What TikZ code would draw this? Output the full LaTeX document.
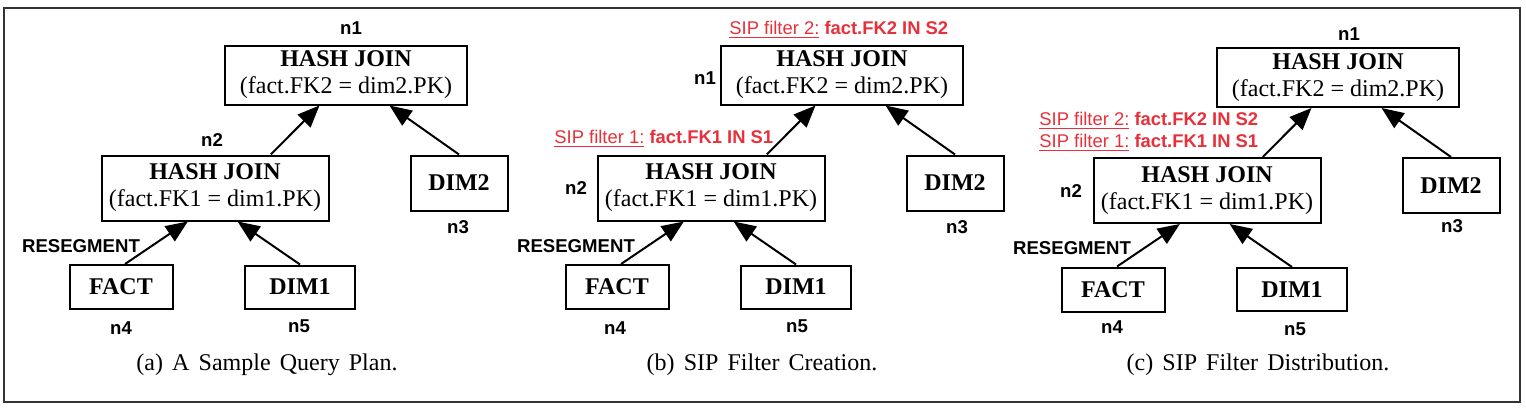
\documentclass[tikz,border=0pt]{standalone}
\usepackage{fontspec}
\setmainfont{Liberation Serif}
\setsansfont{Liberation Sans}
\usetikzlibrary{arrows.meta}
\definecolor{sipred}{RGB}{232,48,58}

\begin{document}
\begin{tikzpicture}[x=0.5pt, y=0.5pt,
  op/.style={draw, line width=1pt, inner sep=0pt, align=center, font=\fontsize{12}{13.5}\selectfont},
  tag/.style={font=\sffamily\bfseries\fontsize{9.3}{11}\selectfont, inner sep=1pt},
  sip/.style={font=\sffamily\fontsize{9.2}{11}\selectfont, text=sipred, inner sep=1pt, anchor=west},
  flow/.style={-{Triangle[length=11pt, width=9pt]}, line width=1pt},
  subcap/.style={font={\fontsize{12}{14}\selectfont\spaceskip 0.38em\relax}}]
  \useasboundingbox (0,0) rectangle (1526,409);
  \draw[line width=0.6pt, black!80] (4,7) rectangle (1520,401);
  % ---------------------------------------------------------------- (a) the plan
  \begin{scope}
    \node[op, minimum width=121pt, minimum height=29.5pt] (a1) at (346,334) {\textbf{HASH JOIN}\\(fact.FK2 = dim2.PK)};
    \node[op, minimum width=113.5pt, minimum height=32.5pt] (a2) at (215,221) {\textbf{HASH JOIN}\\(fact.FK1 = dim1.PK)};
    \node[op, minimum width=48.5pt, minimum height=27.5pt] (a3) at (459,226) {\textbf{DIM2}};
    \node[op, minimum width=51.5pt, minimum height=22pt] (a4) at (121,122) {\textbf{FACT}};
    \node[op, minimum width=55pt, minimum height=21.5pt] (a5) at (300,122) {\textbf{DIM1}};
    \draw[flow] (a2.31) -- (a1.229);
    \draw[flow] (a3.north) -- (a1.-35);
    \draw[flow] (a4.80) -- (a2.231);
    \draw[flow] (a5.north) -- (a2.-56);
    \node[tag] (a1tag) at (351,381) {n1};
    \node[tag] (a2tag) at (212,269) {n2};
    \node[tag] (a3tag) at (458,182) {n3};
    \node[tag] (a4tag) at (121,81) {n4};
    \node[tag] (a5tag) at (299,83) {n5};
    \node[tag] (areseg) at (81,163) {RESEGMENT};
    \node[subcap] (acap) at (267,44) {(a) A Sample Query Plan.};
  \end{scope}
  % ---------------------------------------------------------------- (b) the filters are made at the joins
  \begin{scope}[xshift=248pt]
    \node[op, minimum width=121pt, minimum height=29.5pt] (b1) at (346,334) {\textbf{HASH JOIN}\\(fact.FK2 = dim2.PK)};
    \node[op, minimum width=113.5pt, minimum height=32.5pt] (b2) at (215,221) {\textbf{HASH JOIN}\\(fact.FK1 = dim1.PK)};
    \node[op, minimum width=48.5pt, minimum height=27.5pt] (b3) at (459,226) {\textbf{DIM2}};
    \node[op, minimum width=51.5pt, minimum height=22pt] (b4) at (121,122) {\textbf{FACT}};
    \node[op, minimum width=55pt, minimum height=21.5pt] (b5) at (300,122) {\textbf{DIM1}};
    \draw[flow] (b2.31) -- (b1.229);
    \draw[flow] (b3.north) -- (b1.-35);
    \draw[flow] (b4.80) -- (b2.231);
    \draw[flow] (b5.north) -- (b2.-56);
    \node[sip] (bsip2) at (231,379) {\underline{SIP filter 2:} \textbf{fact.FK2 IN S2}};
    \node[sip] (bsip1) at (56,270) {\underline{SIP filter 1:} \textbf{fact.FK1 IN S1}};
    \node[tag] (b1tag) at (209,331) {n1};
    \node[tag] (b2tag) at (80,221) {n2};
    \node[tag] (b3tag) at (461,182) {n3};
    \node[tag] (b4tag) at (119,81) {n4};
    \node[tag] (b5tag) at (301,83) {n5};
    \node[tag] (breseg) at (80,163) {RESEGMENT};
    \node[subcap] (bcap) at (266,44) {(b) SIP Filter Creation.};
  \end{scope}
  % ---------------------------------------------------------------- (c) both filters pushed down to the scan
  \begin{scope}[xshift=496pt, yshift=-1.25pt]
    \node[op, minimum width=121pt, minimum height=29.5pt] (c1) at (346,334) {\textbf{HASH JOIN}\\(fact.FK2 = dim2.PK)};
    \node[op, minimum width=113.5pt, minimum height=32.5pt] (c2) at (215,221) {\textbf{HASH JOIN}\\(fact.FK1 = dim1.PK)};
    \node[op, minimum width=48.5pt, minimum height=27.5pt] (c3) at (459,226) {\textbf{DIM2}};
    \node[op, minimum width=51.5pt, minimum height=22pt] (c4) at (121,122) {\textbf{FACT}};
    \node[op, minimum width=55pt, minimum height=21.5pt] (c5) at (300,122) {\textbf{DIM1}};
    \draw[flow] (c2.31) -- (c1.229);
    \draw[flow] (c3.north) -- (c1.-35);
    \draw[flow] (c4.80) -- (c2.231);
    \draw[flow] (c5.north) -- (c2.-56);
    \node[sip] (csip2) at (45,290.5) {\underline{SIP filter 2:} \textbf{fact.FK2 IN S2}};
    \node[sip] (csip1) at (45,268.5) {\underline{SIP filter 1:} \textbf{fact.FK1 IN S1}};
    \node[tag] (c1tag) at (357,377.5) {n1};
    \node[tag] (c2tag) at (79,220.5) {n2};
    \node[tag] (c3tag) at (460,185.5) {n3};
    \node[tag] (c4tag) at (120,84.5) {n4};
    \node[tag] (c5tag) at (303,82.5) {n5};
    \node[tag] (creseg) at (80,163.5) {RESEGMENT};
    \node[subcap] (ccap) at (266,46.5) {(c) SIP Filter Distribution.};
  \end{scope}
\end{tikzpicture}
\end{document}
